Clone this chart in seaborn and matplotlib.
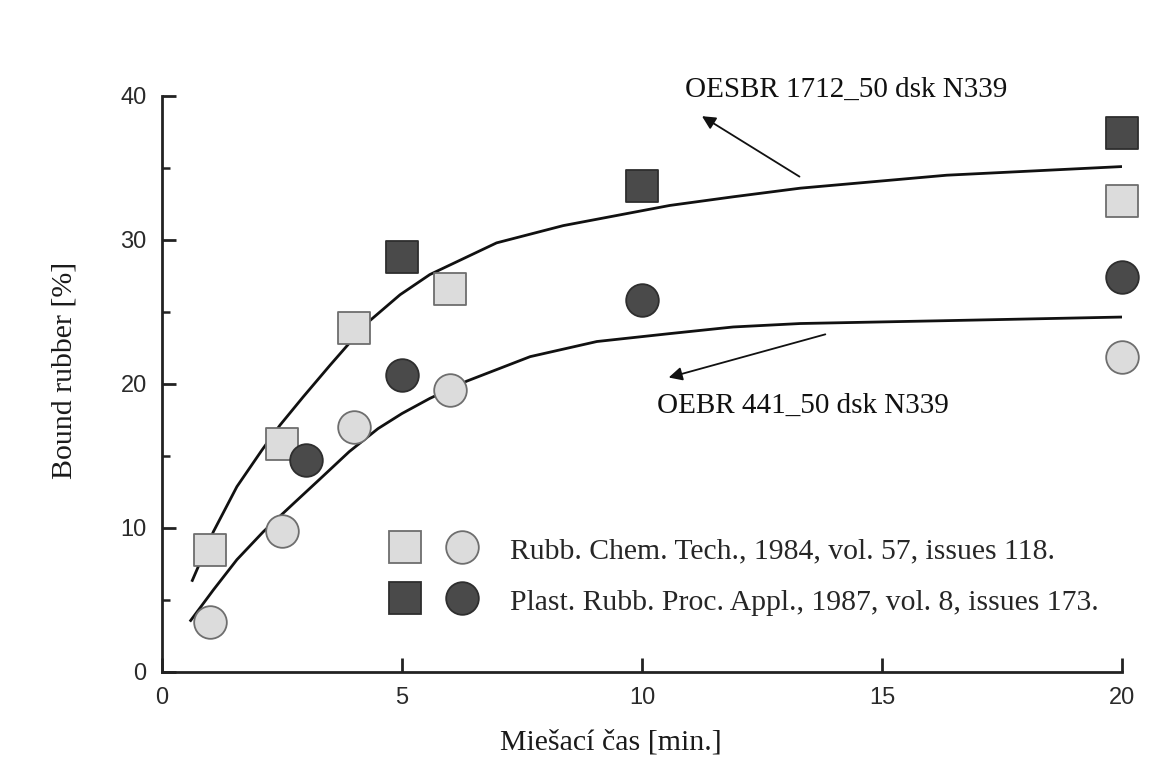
import matplotlib
matplotlib.use("Agg")
import matplotlib.pyplot as plt
import seaborn as sns
import pandas as pd
from matplotlib.lines import Line2D
from matplotlib.legend_handler import HandlerTuple
from matplotlib.ticker import MultipleLocator

# ---------------- data ----------------
rct_sq_x = [1, 2.5, 4, 6, 20]          # Rubb. Chem. Tech. – OESBR (light squares)
rct_sq_y = [8.5, 15.8, 23.9, 26.6, 32.7]
prp_sq_x = [5, 10, 20]                 # Plast. Rubb. Proc. Appl. – OESBR (dark squares)
prp_sq_y = [28.8, 33.75, 37.4]
rct_ci_x = [1, 2.5, 4, 6, 20]          # Rubb. Chem. Tech. – OEBR (light circles)
rct_ci_y = [3.5, 9.8, 17.0, 19.6, 21.9]
prp_ci_x = [3, 5, 10, 20]              # Plast. Rubb. Proc. Appl. – OEBR (dark circles)
prp_ci_y = [14.7, 20.6, 25.8, 27.45]

# fitted curves as drawn in the figure
fit_oesbr_x = [0.62, 1.07, 1.56, 2.08, 2.46, 2.94, 3.5, 4.26, 4.96, 5.58, 6.97, 8.36,
               10.58, 11.9, 13.3, 16.35, 20.0]
fit_oesbr_y = [6.27, 9.74, 12.87, 15.4, 17.15, 19.1, 21.3, 24.2, 26.2, 27.6, 29.8, 31.0,
               32.4, 33.0, 33.6, 34.5, 35.1]
fit_oebr_x = [0.58, 1.07, 1.56, 2.11, 2.74, 3.29, 3.9, 4.5, 5.0, 5.58, 6.35, 7.67, 9.06,
              10.58, 11.9, 13.3, 16.35, 20.0]
fit_oebr_y = [3.5, 5.7, 7.8, 9.74, 11.7, 13.4, 15.3, 16.9, 17.95, 19.0, 20.2, 21.9, 22.95,
              23.5, 23.96, 24.2, 24.4, 24.65]

legend_labels = ["Rubb. Chem. Tech., 1984, vol. 57, issues 118.",
                 "Plast. Rubb. Proc. Appl., 1987, vol. 8, issues 173."]
label_oesbr = "OESBR 1712_50 dsk N339"
label_oebr = "OEBR 441_50 dsk N339"
xlabel = "Miešací čas [min.]"
ylabel = "Bound rubber [%]"
x_ticks = [0, 5, 10, 15, 20]
y_ticks = [0, 10, 20, 30, 40]

# ---------------- styling ----------------
sns.set_theme(style="ticks")
plt.rcParams["font.family"] = ["Liberation Sans", "DejaVu Sans"]
SERIF = ["Liberation Serif", "DejaVu Serif"]

LIGHT = "#dcdcdc"
LIGHT_EDGE = "#6e6e6e"
DARK = "#4a4a4a"
DARK_EDGE = "#2e2e2e"
MS = 23.5  # marker size in points
FS_TXT = 21
FS_LEG = 21.3

fig = plt.figure(figsize=(11.72, 7.69), dpi=100)
ax = fig.add_axes([162 / 1172, 1 - 672 / 769, (1122 - 162) / 1172, (672 - 96) / 769])

# curves
df_fit1 = pd.DataFrame({"x": fit_oesbr_x, "y": fit_oesbr_y})
df_fit2 = pd.DataFrame({"x": fit_oebr_x, "y": fit_oebr_y})
for d in (df_fit1, df_fit2):
    sns.lineplot(data=d, x="x", y="y", ax=ax, color="#111111", lw=2.0, sort=True,
                 zorder=2, solid_joinstyle="round", solid_capstyle="butt")

# scatter points
def pts(x, y):
    return pd.DataFrame({"x": x, "y": y})

s_area = MS ** 2
specs = [
    (rct_sq_x, rct_sq_y, "s", LIGHT, LIGHT_EDGE),
    (prp_sq_x, prp_sq_y, "s", DARK, DARK_EDGE),
    (rct_ci_x, rct_ci_y, "o", LIGHT, LIGHT_EDGE),
    (prp_ci_x, prp_ci_y, "o", DARK, DARK_EDGE),
]
for xs, ys, mk, fc, ec in specs:
    sns.scatterplot(data=pts(xs, ys), x="x", y="y", ax=ax, marker=mk, s=s_area,
                    color=fc, edgecolor=ec, linewidth=1.3, zorder=3, clip_on=False)

# axes
ax.set_xlim(0, 20)
ax.set_ylim(0, 40)
ax.set_xticks(x_ticks)
ax.set_yticks(y_ticks)
ax.yaxis.set_minor_locator(MultipleLocator(5))
sns.despine(ax=ax)
for sp in ("left", "bottom"):
    ax.spines[sp].set_linewidth(2.0)
    ax.spines[sp].set_color("#222222")
ax.tick_params(axis="both", which="major", direction="in", length=10, width=2.0,
               color="#222222", labelsize=17, labelcolor="#2a2a2a", pad=11)
ax.tick_params(axis="y", which="minor", direction="in", length=6, width=1.8, color="#222222")
ax.set_xlabel(xlabel, family=SERIF, fontsize=21.5, color="#1a1a1a")
ax.set_ylabel(ylabel, family=SERIF, fontsize=21.5, color="#1a1a1a")
ax.xaxis.set_label_coords(0.468, -0.100)
ax.yaxis.set_label_coords(-0.0875, 0.524)

# annotations with arrows
ax.annotate("", xy=(11.2, 38.7), xytext=(13.33, 34.3),
            arrowprops=dict(arrowstyle="-|>", color="#111111", lw=1.3, mutation_scale=20))
ax.text(10.9, 40.4, label_oesbr, family=SERIF, fontsize=FS_TXT, color="#111111",
        ha="left", va="center", clip_on=False)
ax.annotate("", xy=(10.5, 20.4), xytext=(13.875, 23.5),
            arrowprops=dict(arrowstyle="-|>", color="#111111", lw=1.3, mutation_scale=20))
ax.text(10.31, 18.5, label_oebr, family=SERIF, fontsize=FS_TXT, color="#111111",
        ha="left", va="center")

# legend: square + circle pairs
def pair(fc, ec):
    return (Line2D([], [], ls="none", marker="s", ms=MS, mfc=fc, mec=ec, mew=1.3),
            Line2D([], [], ls="none", marker="o", ms=MS, mfc=fc, mec=ec, mew=1.3))

fs_px = FS_LEG / 0.72
leg = ax.legend([pair(LIGHT, LIGHT_EDGE), pair(DARK, DARK_EDGE)], legend_labels,
                handler_map={tuple: HandlerTuple(ndivide=None, pad=0.0)},
                loc="upper left", bbox_to_anchor=(376.5 / 1172, 1 - 535 / 769),
                bbox_transform=fig.transFigure, frameon=False, borderpad=0, borderaxespad=0,
                handlelength=114 / fs_px, handletextpad=19.5 / fs_px, handleheight=1.0,
                labelspacing=0.75, prop={"family": SERIF, "size": FS_LEG})

fig.savefig("out.png", dpi=100, facecolor="white")
